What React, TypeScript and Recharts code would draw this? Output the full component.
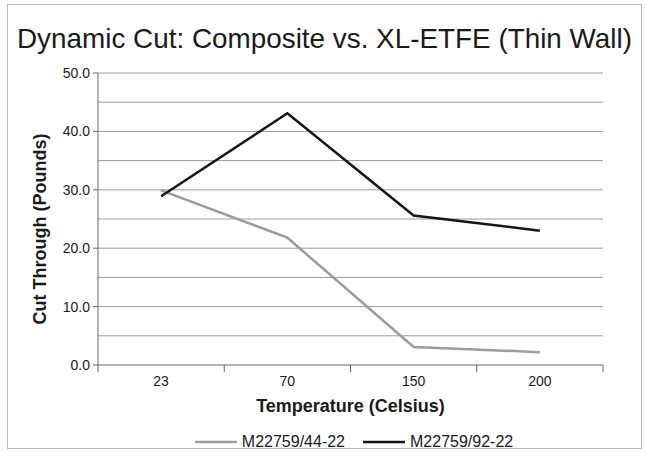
import { LineChart, Line, XAxis, YAxis, ReferenceLine, Legend } from "recharts";

const temperatures = ["23", "70", "150", "200"];
const m44 = [29.9, 21.8, 3.1, 2.2];
const m92 = [28.9, 43.1, 25.6, 23.0];
const yTicks = [0, 10, 20, 30, 40, 50];
const gridValues = [5, 10, 15, 20, 25, 30, 35, 40, 45, 50];

const data = temperatures.map((t, i) => ({
  temp: t,
  "M22759/44-22": m44[i],
  "M22759/92-22": m92[i],
}));

const FONT = '"Liberation Sans", Arial, Helvetica, sans-serif';
const INK = "#1a1a1a";

// category ticks sit between categories, like the old spreadsheet chart
function TempTick(props: any) {
  const { x, y, payload, index } = props;
  const half = payload.offset || 63;
  return (
    <g>
      {index === 0 && <line x1={x - half} y1={y} x2={x - half} y2={y + 7} stroke="#666" />}
      <line x1={x + half} y1={y} x2={x + half} y2={y + 7} stroke="#666" />
      <text x={x} y={y + 21} textAnchor="middle" fontSize={14} fill={INK} fontFamily={FONT}>
        {payload.value}
      </text>
    </g>
  );
}

function YTitle(props: any) {
  const vb = props.viewBox;
  const cx = vb.x + 40;
  const cy = vb.y + vb.height / 2 + 10;
  return (
    <text
      x={cx}
      y={cy}
      transform={`rotate(-90, ${cx}, ${cy})`}
      textAnchor="middle"
      dominantBaseline="central"
      fontSize={18}
      fontWeight="bold"
      fill={INK}
      fontFamily={FONT}
    >
      Cut Through (Pounds)
    </text>
  );
}

function XTitle(props: any) {
  const vb = props.viewBox;
  return (
    <text
      x={vb.x + vb.width / 2}
      y={vb.y + 47}
      textAnchor="middle"
      fontSize={18}
      fontWeight="bold"
      fill={INK}
      fontFamily={FONT}
    >
      Temperature (Celsius)
    </text>
  );
}

function LegendContent(props: any) {
  const { payload } = props;
  return (
    <div style={{ display: "flex", justifyContent: "center", gap: 18, fontFamily: FONT, fontSize: 16, color: INK }}>
      {payload.map((entry: any) => (
        <span key={entry.value} style={{ display: "flex", alignItems: "center" }}>
          <svg width={42} height={10}>
            <line x1={0} y1={5} x2={42} y2={5} stroke={entry.color} strokeWidth={2.5} />
          </svg>
          <span style={{ marginLeft: 5 }}>{entry.value}</span>
        </span>
      ))}
    </div>
  );
}

export default function App() {
  return (
    <div style={{ position: "absolute", left: 0, top: 0, width: 646, height: 453, background: "#fff" }}>
      <div
        style={{
          position: "absolute",
          left: 7,
          top: 4,
          width: 633,
          height: 443,
          border: "1px solid #b8b8b8",
        }}
      />
      <svg width={646} height={60} style={{ position: "absolute", left: 0, top: 0 }}>
        <text
          x={324.5}
          y={48}
          textAnchor="middle"
          fontSize={28}
          fill={INK}
          fontFamily={FONT}
          textLength={615}
          lengthAdjust="spacingAndGlyphs"
        >
          Dynamic Cut: Composite vs. XL-ETFE (Thin Wall)
        </text>
      </svg>
      <div style={{ position: "absolute", left: 0, top: 0 }}>
        <LineChart width={646} height={453} data={data} margin={{ top: 73, right: 43, left: 0, bottom: 20 }}>
          {gridValues.map((v) => (
            <ReferenceLine key={v} yAxisId="left" y={v} stroke="#9a9a9a" strokeWidth={1} />
          ))}
          <XAxis
            dataKey="temp"
            scale="band"
            tickSize={0}
            tickMargin={0}
            tickLine={false}
            tick={<TempTick />}
            height={50}
            axisLine={{ stroke: "#666" }}
            label={(p: any) => <XTitle {...p} />}
          />
          <YAxis
            yAxisId="left"
            domain={[0, 50]}
            ticks={yTicks}
            interval={0}
            tickFormatter={(v: number) => v.toFixed(1)}
            width={98}
            tickSize={5}
            tickMargin={3}
            axisLine={{ stroke: "#666" }}
            tickLine={{ stroke: "#666" }}
            tick={{ fontSize: 14, fill: INK, fontFamily: FONT }}
            label={(p: any) => <YTitle {...p} />}
          />
          <YAxis
            yAxisId="right"
            orientation="right"
            domain={[0, 50]}
            width={0}
            tick={false}
            tickLine={false}
            axisLine={{ stroke: "#888" }}
          />
          <Line
            yAxisId="left"
            type="linear"
            dataKey="M22759/44-22"
            stroke="#9c9c9c"
            strokeWidth={2.5}
            dot={false}
            isAnimationActive={false}
          />
          <Line
            yAxisId="left"
            type="linear"
            dataKey="M22759/92-22"
            stroke="#141414"
            strokeWidth={2.5}
            dot={false}
            isAnimationActive={false}
          />
          <Legend
            verticalAlign="bottom"
            content={<LegendContent />}
            wrapperStyle={{ left: 60, width: 588, bottom: 2 }}
          />
        </LineChart>
      </div>
    </div>
  );
}
